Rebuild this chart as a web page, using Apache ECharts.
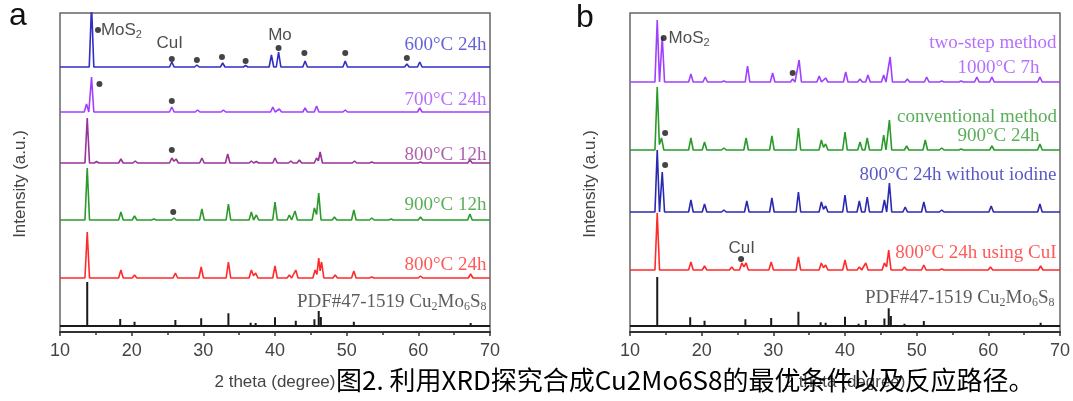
<!DOCTYPE html>
<html><head><meta charset="utf-8">
<script src="https://cdn.jsdelivr.net/npm/echarts@6/dist/echarts.min.js"></script>
<style>html,body{margin:0;padding:0;background:#fff}#c{width:1073px;height:401px}</style>
</head><body><div id="c"></div>
<script>
// ---------- DATA ----------
// Panel a: peaks [2theta, height] and baseline offsets (a.u.)
const a600 = [[14.4,62],[25.6,5],[29.1,2],[32.7,4],[35.9,1.5],[39.5,12],[40.5,15],[44.2,6],[49.8,6],[58.4,3],[60.2,5]];
const a700 = [[13.7,8],[14.4,35],[25.6,5],[29.2,2],[32.8,2],[39.7,5],[40.6,3],[44.2,4],[45.8,6],[49.8,2],[60.2,4]];
const a800_12 = [[13.8,45],[15.1,1.5],[18.5,4],[20.5,2],[25.6,5],[26.2,4],[29.8,5],[33.4,9],[36.7,2],[37.4,1.5],[40.0,5],[42.2,2],[43.4,3],[45.8,5],[46.3,11],[51.1,2],[53.5,1],[60.3,1],[67.2,3]];
const a900_12 = [[13.8,52],[18.5,8],[20.4,4],[23.1,1],[25.9,2],[29.8,11],[33.5,16],[36.7,8],[37.4,5],[40.0,18],[42.0,5],[42.8,9],[45.5,12],[46.1,27],[48.3,3],[51.0,10],[53.5,2],[56.2,1],[60.3,3],[67.2,6]];
const a800_24 = [[13.8,46],[18.5,8],[20.4,3],[26.1,5],[29.7,11],[33.5,16],[36.7,8],[37.3,5],[40.0,12],[42.0,3],[42.9,8],[45.6,8],[46.1,20],[46.5,16],[48.4,3],[51.0,7],[53.5,1],[60.3,2],[67.3,4]];
const aPDF = [[13.8,44],[18.4,7],[20.4,4.3],[23.1,1.5],[26.1,6],[29.7,7.7],[33.5,12.7],[36.6,3.3],[37.3,3],[40.0,8.7],[41.9,2],[42.9,5.3],[45.5,6.7],[46.1,15],[46.4,9],[48.3,2],[51.0,4.3],[53.4,1.5],[60.3,1.5],[67.3,3]];
const offsetsA = [265, 220, 169, 112, 54, 6];
const namesA = ['600°C 24h','700°C 24h','800°C 12h','900°C 12h','800°C 24h','PDF#47-1519 Cu{s|2}Mo{s|6}S{s|8}'];
const labelYA = [287, 232, 177, 127, 67, 30];
// markers (•/*) panel a: [2theta, y]
const markA = [[15.3,302],[25.6,273],[29.1,272],[32.6,275],[35.9,271],[40.5,284],[44.1,279],[49.8,279],[58.4,274],[15.5,248],[25.6,231],[25.6,182],[25.8,120]];

// Panel b
const b2step = [[13.8,62],[14.5,45],[18.5,8],[20.5,5],[23.1,1],[26.4,16],[29.9,9],[32.7,3],[33.6,22],[36.4,6],[37.3,4],[40.1,10],[42.1,3],[43.2,7],[45.4,7],[46.3,25],[48.7,3],[51.4,5],[53.5,1],[56.2,1],[58.4,5],[60.5,5],[67.2,5]];
const bConv = [[13.8,63],[14.4,12],[18.5,12],[20.4,8],[23.1,2],[26.2,12],[29.8,14],[33.5,22],[36.7,10],[37.3,6],[40.0,18],[42.1,8],[43.1,12],[45.4,15],[46.2,30],[48.6,4],[51.2,10],[53.5,2],[56.2,1],[60.5,4],[67.2,6]];
const bNoI = [[13.8,62],[14.5,40],[18.5,12],[20.4,8],[23.1,2],[26.3,11],[29.8,14],[33.5,20],[36.7,10],[37.3,6],[40.0,17],[42.0,11],[43.1,15],[45.5,12],[46.2,29],[48.4,5],[51.0,10],[53.5,2],[60.4,6],[67.2,8]];
const bCuI = [[13.8,57],[18.5,8],[20.4,4],[24.2,3],[25.6,7],[26.2,7],[29.7,8],[33.5,13],[36.7,7],[37.3,5],[40.0,10],[42.0,3],[42.9,7],[45.5,7],[46.1,20],[48.3,3],[51.0,5],[53.5,1],[60.3,3],[67.3,4]];
const bPDF = [[13.8,49],[18.4,8.7],[20.4,5.3],[23.1,1.7],[26.1,6.7],[29.7,8],[33.5,14.3],[36.6,3.7],[37.3,3.3],[40.0,9.3],[41.9,2.3],[42.9,6],[45.5,7.5],[46.1,17.7],[46.4,10],[48.3,2.3],[51.0,5],[53.4,1.7],[60.3,1.7],[67.3,3.3]];
const offsetsB = [250, 182, 120, 62, 6];
const labelsB = [['two-step method',69.58,289],['1000°C 7h',67.2,264],['conventional method',69.65,215],['900°C 24h',67.2,196],['800°C 24h without iodine',69.58,157],['800°C 24h using CuI',69.58,79],['PDF#47-1519 Cu{s|2}Mo{s|6}S{s|8}',69.3,34]];
const labelColorB = [0,0,1,1,2,3,4];
const markB = [[14.7,294],[32.7,259],[14.9,199],[14.9,167],[25.5,73]];

// ---------- BUILD ----------
const W = 0.32;
function profile(peaks, base){
  const ps = peaks.slice().sort((p,q)=>p[0]-q[0]);
  const pts = [[10, base]];
  for (let i=0;i<ps.length;i++){
    const [p,h] = ps[i];
    const prev = ps[i-1], next = ps[i+1];
    if (prev && p - prev[0] < 2*W) {
      pts.push([(p+prev[0])/2, base + 0.45*Math.min(h, prev[1])]);
    } else pts.push([p-W, base]);
    pts.push([p, base+h]);
    if (!(next && next[0] - p < 2*W)) pts.push([p+W, base]);
  }
  pts.push([70, base]);
  return pts;
}
function sticks(peaks, base){
  const pts=[[10,base]];
  peaks.slice().sort((p,q)=>p[0]-q[0]).forEach(([p,h])=>{pts.push([p,base],[p,base+h],[p,base]);});
  pts.push([70,base]);
  return pts;
}
const colA = ['#2f2fc4','#a040ff','#993399','#2a9a2a','#ff2a2a','#1a1a1a'];
const labColA = ['#3c3ccc','#a24cff','#9a3a9a','#2f9a2f','#ff3030','#333333'];
const colB = ['#a040ff','#2a9a2a','#2a2ab0','#ff2a2a','#1a1a1a'];
const labColB = ['#a24cff','#2f9a2f','#3030b8','#ff3030','#333333'];

const serif = "'Liberation Serif','DejaVu Serif',serif";
const sans = "'Liberation Sans',Arial,sans-serif";
const rich = {
  s:{fontFamily:serif,fontSize:12,padding:[9,0,0,0]},
  s2:{fontFamily:sans,fontSize:11,padding:[10,0,0,0]}
};

function lineSeries(data, color, idx, w){
  return {type:'line', xAxisIndex:idx, yAxisIndex:idx, data, showSymbol:false, symbol:'none',
    lineStyle:{color, width:w||1.6}, animation:false, silent:true, clip:true, z:2};
}
const series = [];
const dataA = [a600,a700,a800_12,a900_12,a800_24];
dataA.forEach((d,i)=>series.push(lineSeries(profile(d, offsetsA[i]), colA[i], 0)));
series.push(lineSeries(sticks(aPDF, offsetsA[5]), colA[5], 0, 2));
const dataB = [b2step,bConv,bNoI,bCuI];
dataB.forEach((d,i)=>series.push(lineSeries(profile(d, offsetsB[i]), colB[i], 1)));
series.push(lineSeries(sticks(bPDF, offsetsB[4]), colB[4], 1, 2));

function textSeries(items, idx){
  return {type:'scatter', xAxisIndex:idx, yAxisIndex:idx, symbolSize:1, itemStyle:{color:'rgba(0,0,0,0)'},
    animation:false, silent:true, clip:false, z:5,
    data: items.map(it=>({value:[it.x,it.y], label:{show:true, position:it.pos||'left', distance:it.dist||0,
      formatter:it.t, color:it.c, fontFamily:it.f||serif, fontSize:it.fs||19, rich}}))};
}
const labA = namesA.map((t,i)=>({t, x:69.58, y:labelYA[i], c:labColA[i]}));
labA.push({t:'MoS{s2|2}', x:15.5, y:302, c:'#222', f:sans, fs:17, pos:'right', dist:1});
labA.push({t:'CuI', x:25.3, y:289, c:'#222', f:sans, fs:17, pos:'inside'});
labA.push({t:'Mo', x:40.7, y:297, c:'#222', f:sans, fs:17, pos:'inside'});
series.push(textSeries(labA,0));
const labB = labelsB.map(([t,x,y],i)=>({t,x,y,c:labColB[labelColorB[i]]}));
labB.push({t:'MoS{s2|2}', x:14.9, y:294, c:'#222', f:sans, fs:17, pos:'right', dist:3});
labB.push({t:'CuI', x:25.6, y:84, c:'#222', f:sans, fs:17, pos:'inside'});
series.push(textSeries(labB,1));

function markSeries(d, idx){
  return {type:'scatter', xAxisIndex:idx, yAxisIndex:idx, data:d, symbol:'circle', symbolSize:6,
    itemStyle:{color:'#151515'}, animation:false, silent:true, z:4};
}
series.push(markSeries(markA,0), markSeries(markB,1));

function xAx(idx){
  return {type:'value', gridIndex:idx, min:10, max:70, interval:10,
    name:'2 theta (degree)', nameLocation:'middle', nameGap:42,
    nameTextStyle:{fontFamily:sans, fontSize:17, color:'#444'},
    axisLine:{show:true, onZero:false, lineStyle:{color:'#333', width:2}},
    axisTick:{show:true, inside:false, length:4, lineStyle:{color:'#333', width:1.5}},
    minorTick:{show:true, splitNumber:2, length:3, lineStyle:{color:'#333', width:1.5}},
    axisLabel:{fontFamily:sans, fontSize:18, color:'#444', margin:10},
    splitLine:{show:false}};
}
function yAx(idx){
  return {type:'value', gridIndex:idx, min:0, max:319,
    axisLine:{show:false}, axisTick:{show:false}, axisLabel:{show:false}, splitLine:{show:false}};
}
const option = {
  backgroundColor:'#fff', animation:false,
  grid:[
    {left:60, right:583, top:13, bottom:69, show:true, borderColor:'#666', borderWidth:1.5},
    {left:630, right:13, top:13, bottom:69, show:true, borderColor:'#666', borderWidth:1.5}
  ],
  xAxis:[xAx(0), xAx(1)],
  yAxis:[yAx(0), yAx(1)],
  series,
  graphic:[
    {type:'text', left:9, top:0, style:{text:'a', font:"32px 'Liberation Sans',Arial,sans-serif", fill:'#111'}},
    {type:'text', left:576, top:2, style:{text:'b', font:"32px 'Liberation Sans',Arial,sans-serif", fill:'#111'}},
    {type:'text', x:20, y:184, rotation:Math.PI/2, style:{text:'Intensity (a.u.)', font:"17px 'Liberation Sans',Arial,sans-serif", fill:'#444', align:'center', verticalAlign:'middle'}},
    {type:'text', x:590, y:184, rotation:Math.PI/2, style:{text:'Intensity (a.u.)', font:"17px 'Liberation Sans',Arial,sans-serif", fill:'#444', align:'center', verticalAlign:'middle'}},
    {type:'text', left:336, top:367, z:100, style:{text:'图2. 利用XRD探究合成Cu2Mo6S8的最优条件以及反应路径。', font:"26px 'Noto Sans CJK SC',sans-serif", fill:'#000'}}
  ]
};
const chart = echarts.init(document.getElementById('c'), null, {renderer:'canvas'});
chart.setOption(option);
</script></body></html>
